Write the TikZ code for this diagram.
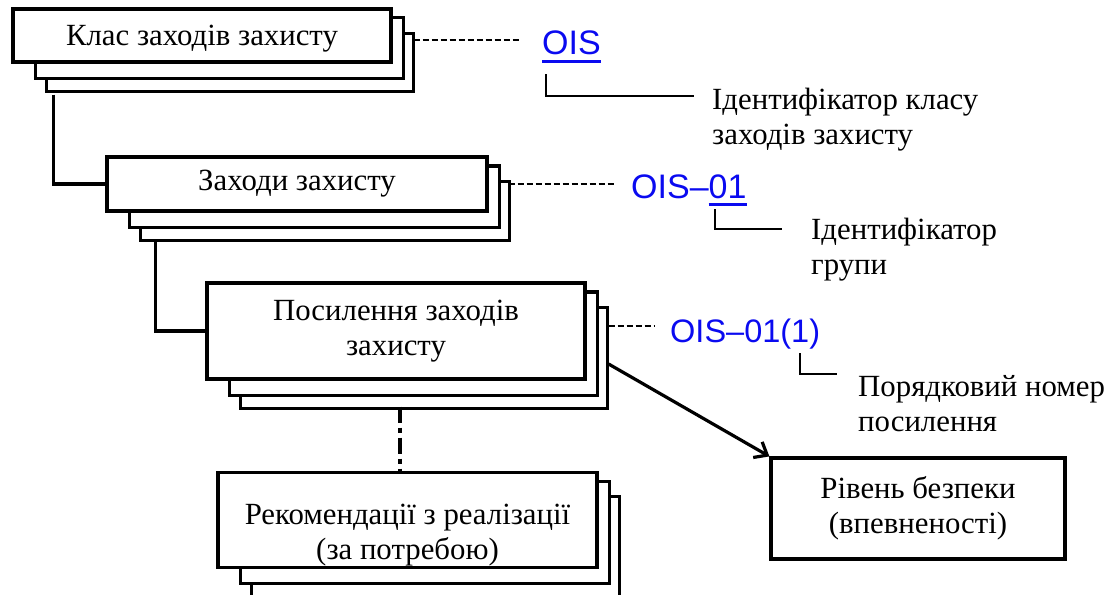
\documentclass[tikz,border=0pt]{standalone}
\usepackage{fontspec}
\setmainfont{Liberation Serif}
\newfontfamily\idfont{Liberation Sans}
\usetikzlibrary{positioning,arrows.meta,backgrounds}
\definecolor{idblue}{RGB}{10,10,240}
\newcommand{\idul}[1]{\setbox0\hbox{#1}\rlap{\rule[-8pt]{\wd0}{3pt}}\box0}

\begin{document}
\begin{tikzpicture}[x=1pt,y=-1pt,
          txt/.style={font=\fontsize{30.8}{35}\selectfont},
          box/.style={txt,draw,fill=white,line width=3.2pt,align=center,inner sep=0pt},
          layer/.style={draw,fill=white,line width=3.2pt},
          idtag/.style={font=\idfont\fontsize{34}{40}\selectfont,text=idblue,inner sep=0pt,anchor=base west},
          note/.style={txt,align=left,inner sep=0pt,anchor=north west},
          link/.style={line width=3.2pt},
          idline/.style={line width=1.5pt,dash pattern=on 6pt off 3pt},
          brk/.style={line width=1.6pt}
            ]
    \useasboundingbox (0,0) rectangle (1118,594);
    \node[box,minimum width=378pt,minimum height=53pt,text depth=0pt] (klas) at (202,35.5) {Клас заходів захисту};
    \node[box,minimum width=380pt,minimum height=54pt] (zahody) at (297,184) {Заходи захисту};
    \node[box,minimum width=378pt,minimum height=96pt] (posyl) at (396,331) {Посилення заходів\\захисту};
    \node[box,minimum width=379pt,minimum height=95pt,below=90pt of posyl,xshift=11.5pt,
          label={[txt,align=center,yshift=-15.5pt]center:Рекомендації з реалізації\\(за потребою)}] (rekom) {};
    \node[box,minimum width=294pt,minimum height=101pt] (riven) at (918,508.5) {Рівень безпеки\\(впевненості)};

    \node[idtag] (ois) at (542,55) {\idul{OIS}};
    \node[idtag] (ois01) at (631,198) {OIS–\idul{01}};
    \node[idtag,font=\idfont\fontsize{32.5}{38}\selectfont] (ois011) at (670,342) {OIS–01(1)};

    \node[note] (idklas) at (712,88) {Ідентифікатор класу\\заходів захисту};
    \node[note] (idgrupy) at (811,218) {Ідентифікатор\\групи};
    \node[note] (idnom) at (858,375) {Порядковий номер\\посилення};

    \begin{scope}[on background layer]
    \foreach \n in {klas,zahody,posyl,rekom}{
      \draw[layer] ([shift={(35,28)}]\n.south west) rectangle ([shift={(21,26)}]\n.north east);
      \draw[layer] ([shift={(24,15)}]\n.south west) rectangle ([shift={(10.5,10.5)}]\n.north east);
    }
    \end{scope}

    \draw[link] ([shift={(42,31)}]klas.south west) |- (zahody.west);
    \draw[link] ([shift={(50,29)}]zahody.south west) |- (posyl.west);
    \coordinate (dd) at ([shift={(4,26)}]posyl.south);
    \draw[link,dash pattern=on 16pt off 5pt on 5pt off 5pt] (dd) -- (dd |- rekom.north);
    \draw[link,-{Straight Barb[length=11pt,width=18pt]}] ([shift={(22,33)}]posyl.east) -- (riven.north west);

    \draw[idline,shorten >=21pt] ([shift={(21,4.5)}]klas.east) coordinate (d1) -- (d1 -| ois.west);
    \draw[idline,shorten >=16pt] ([xshift=20pt]zahody.east) coordinate (d2) -- (d2 -| ois01.west);
    \draw[idline,shorten >=16pt] ([shift={(22,-5)}]posyl.east) coordinate (d3) -- (d3 -| ois011.west);

    \draw[brk] ([shift={(4,19)}]ois.base west) |- ([shift={(-18,8)}]idklas.north west);
    \draw[brk] ([shift={(84,11)}]ois01.base west) |- ([shift={(-29,11)}]idgrupy.north west);
    \draw[brk] ([shift={(130,11)}]ois011.base west) |- ([shift={(-21,-1)}]idnom.north west);
\end{tikzpicture}
\end{document}
